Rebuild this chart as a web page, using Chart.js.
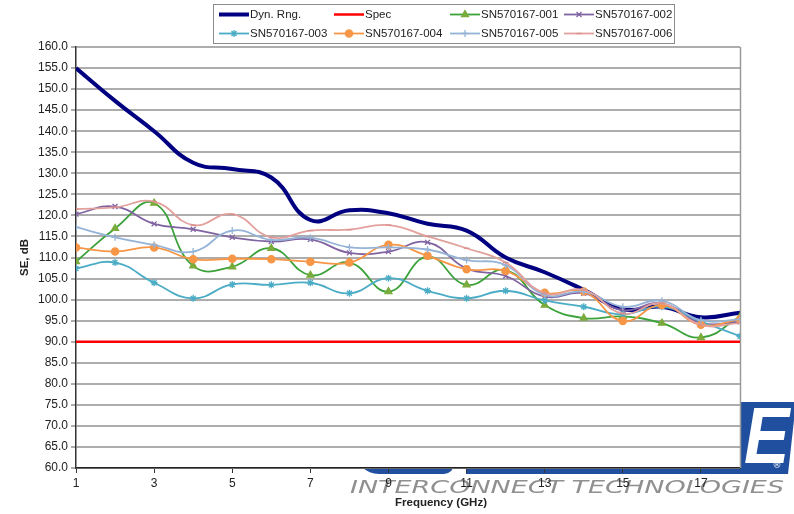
<!DOCTYPE html>
<html>
<head>
<meta charset="utf-8">
<script src="https://cdn.jsdelivr.net/npm/chart.js@4.4.1/dist/chart.umd.min.js"></script>
<style>
  html, body { margin: 0; padding: 0; background: #fff; }
  #wrap { width: 794px; height: 514px; }
</style>
</head>
<body>
<div id="wrap"><canvas id="seChart" width="794" height="514"></canvas></div>
<script>
// Frequency (GHz) and shielding effectiveness (dB) per sample
const freqs  = [1, 2, 3, 4, 5, 6, 7, 8, 9, 10, 11, 12, 13, 14, 15, 16, 17, 18];
const xTicks = [1, 3, 5, 7, 9, 11, 13, 15, 17];

const dynRng = [155.0, 147.2, 140.0, 132.5, 131.0, 129.0, 118.9, 121.2, 120.5, 118.0, 116.4, 110.0, 106.5, 102.3, 97.7, 98.3, 95.8, 96.9];
const spec   = [90, 90, 90, 90, 90, 90, 90, 90, 90, 90, 90, 90, 90, 90, 90, 90, 90, 90];
const sn001  = [109.0, 116.9, 122.9, 108.0, 107.8, 112.2, 105.8, 108.8, 101.9, 110.2, 103.5, 107.0, 98.7, 95.6, 96.0, 94.4, 91.0, 95.9];
const sn002  = [120.3, 122.1, 118.0, 116.7, 114.8, 113.8, 114.3, 111.1, 111.4, 113.6, 107.4, 105.6, 100.7, 101.5, 97.5, 99.1, 94.5, 94.7];
const sn003  = [107.4, 108.8, 104.0, 100.3, 103.6, 103.5, 104.0, 101.5, 105.1, 102.1, 100.3, 102.1, 99.8, 98.3, 96.5, 98.3, 94.8, 91.3];
const sn004  = [112.4, 111.4, 112.4, 109.6, 109.7, 109.6, 109.0, 108.8, 113.0, 110.4, 107.2, 106.8, 101.6, 101.9, 94.9, 98.7, 94.0, 95.3];
const sn005  = [117.2, 114.8, 113.0, 111.4, 116.4, 114.2, 114.7, 112.4, 112.4, 111.9, 109.4, 108.2, 101.1, 101.9, 98.3, 99.7, 95.1, 95.3];
const sn006  = [121.5, 121.9, 123.3, 117.7, 120.3, 114.8, 116.4, 116.6, 117.7, 115.0, 112.2, 108.8, 101.5, 102.3, 96.7, 99.1, 94.0, 94.4];

Chart.defaults.font.family = '"Liberation Sans", Arial, sans-serif';
Chart.defaults.color = '#222';

function pts(vals) {
  return vals.map((v, i) => ({ x: freqs[i], y: v }));
}

function sample(label, vals, color, markColor, style, radius, order) {
  return {
    label: label,
    data: pts(vals),
    borderColor: color,
    borderWidth: 1.8,
    pointStyle: style,
    pointRadius: radius,
    pointBackgroundColor: markColor,
    pointBorderColor: markColor,
    pointBorderWidth: 1.3,
    tension: 0.45,
    order: order
  };
}

// company logo behind the plot, plot area painted white on top
const backdrop = {
  id: 'backdrop',
  beforeDraw(chart) {
    const c = chart.ctx, a = chart.chartArea;
    c.save();
    c.fillStyle = '#1f4f9e';
    c.beginPath();
    c.moveTo(466, 402); c.lineTo(796, 402); c.lineTo(788, 474); c.lineTo(466, 474);
    c.closePath(); c.fill();
    c.beginPath();
    c.roundRect(355, 420, 99, 54, [0, 0, 10, 24]);
    c.fill();

    c.fillStyle = '#fff';
    c.save();
    c.translate(744, 463);
    c.scale(0.85, 1);
    c.font = 'bold italic 80px "Liberation Sans", Arial, sans-serif';
    c.textBaseline = 'alphabetic';
    c.fillText('E', 0, 0);
    c.restore();
    c.font = '9px "DejaVu Sans", sans-serif';
    c.textAlign = 'center';
    c.textBaseline = 'middle';
    c.fillText('\u00AE', 777, 466);

    c.fillStyle = '#909090';
    c.save();
    c.font = 'italic 17px "DejaVu Sans", sans-serif';
    c.textAlign = 'left';
    c.textBaseline = 'alphabetic';
    const txt = 'INTERCONNECT TECHNOLOGIES';
    const w = c.measureText(txt).width;
    c.translate(350, 493);
    c.scale(434 / w, 1);
    c.fillText(txt, 0, 0);
    c.restore();

    c.fillStyle = '#fff';
    c.fillRect(a.left, a.top, a.right - a.left, a.bottom - a.top);
    c.restore();
  },
  beforeDatasetsDraw(chart) {
    const c = chart.ctx, a = chart.chartArea;
    c.save();
    c.strokeStyle = '#9a9a9a';
    c.lineWidth = 1.5;
    c.beginPath();
    c.moveTo(a.right + 0.5, a.top);
    c.lineTo(a.right + 0.5, a.bottom);
    c.stroke();
    c.restore();
  },
  afterDraw(chart) {
    const c = chart.ctx;
    c.save();
    c.font = 'bold 11.5px "Liberation Sans", Arial, sans-serif';
    c.fillStyle = '#222';
    c.textAlign = 'center';
    c.textBaseline = 'middle';
    c.fillText('Frequency (GHz)', 441, 503);
    c.restore();
  }
};

const legendBox = {
  id: 'legendBox',
  afterDraw(chart) {
    const c = chart.ctx;
    c.save();
    c.fillStyle = '#fff';
    c.fillRect(213.5, 4.5, 461, 39);
    c.strokeStyle = '#8c8c8c';
    c.lineWidth = 1;
    c.strokeRect(213.5, 4.5, 461, 39);
    const colX = [219, 334, 450, 564];
    const rowY = [14.5, 33.5];
    c.font = '11.5px "Liberation Sans", Arial, sans-serif';
    c.textBaseline = 'middle';
    c.textAlign = 'left';
    chart.data.datasets.forEach((ds, i) => {
      const x = colX[i % 4], y = rowY[Math.floor(i / 4)];
      c.strokeStyle = ds.borderColor;
      c.lineWidth = ds.borderWidth;
      c.beginPath(); c.moveTo(x, y); c.lineTo(x + 30, y); c.stroke();
      if (ds.pointRadius > 0) {
        c.fillStyle = ds.pointBackgroundColor;
        c.strokeStyle = ds.pointBorderColor;
        c.lineWidth = ds.pointBorderWidth;
        Chart.helpers.drawPoint(c, {
          pointStyle: ds.pointStyle, radius: ds.pointRadius,
          borderWidth: ds.pointBorderWidth, rotation: 0
        }, x + 15, y);
      }
      c.fillStyle = '#222';
      c.fillText(ds.label, x + 31, y);
    });
    c.restore();
  }
};

new Chart(document.getElementById('seChart').getContext('2d'), {
  type: 'line',
  data: {
    datasets: [
      { label: 'Dyn. Rng.', data: pts(dynRng), borderColor: '#000080', borderWidth: 4,
        pointRadius: 0, tension: 0.45, order: 7 },
      { label: 'Spec', data: pts(spec), borderColor: '#ff0000', borderWidth: 2.5,
        pointRadius: 0, tension: 0, order: 6 },
      sample('SN570167-001', sn001, '#3ca23a', '#7aab3c', 'triangle', 4, 5),
      sample('SN570167-002', sn002, '#8064a2', '#8064a2', 'crossRot', 3.5, 4),
      sample('SN570167-003', sn003, '#4bacc6', '#4bacc6', 'star', 3.5, 3),
      sample('SN570167-004', sn004, '#f79646', '#f79646', 'circle', 3.6, 2),
      sample('SN570167-005', sn005, '#95b3d7', '#95b3d7', 'cross', 3.5, 1),
      sample('SN570167-006', sn006, '#e3a19d', '#d98e8b', 'line', 2.8, 0)
    ]
  },
  options: {
    responsive: false,
    animation: false,
    devicePixelRatio: 1,
    layout: { padding: { top: 47, right: 54, bottom: 0, left: 0 } },
    plugins: {
      legend: { display: false },
      tooltip: { enabled: false }
    },
    scales: {
      x: {
        type: 'linear',
        min: 1,
        max: 18,
        afterBuildTicks: s => { s.ticks = xTicks.map(v => ({ value: v })); },
        afterFit: s => { s.height = 46; },
        grid: { drawOnChartArea: false, drawTicks: true, tickLength: 5, color: '#333' },
        border: { color: '#222', width: 1.5 },
        ticks: { padding: 3, maxRotation: 0, font: { size: 12 }, color: '#222' }
      },
      y: {
        min: 60,
        max: 160,
        afterFit: s => { s.width = 76; },
        ticks: { stepSize: 5, padding: 3, font: { size: 12 }, color: '#222',
                 callback: v => v.toFixed(1) },
        grid: { color: '#adadad', lineWidth: 2, tickLength: 5 },
        border: { color: '#333', width: 1.5 },
        title: { display: true, text: 'SE, dB', font: { size: 11.5, weight: 'bold' },
                 color: '#222', padding: { top: 18, bottom: 0 } }
      }
    }
  },
  plugins: [backdrop, legendBox]
});
</script>
</body>
</html>
